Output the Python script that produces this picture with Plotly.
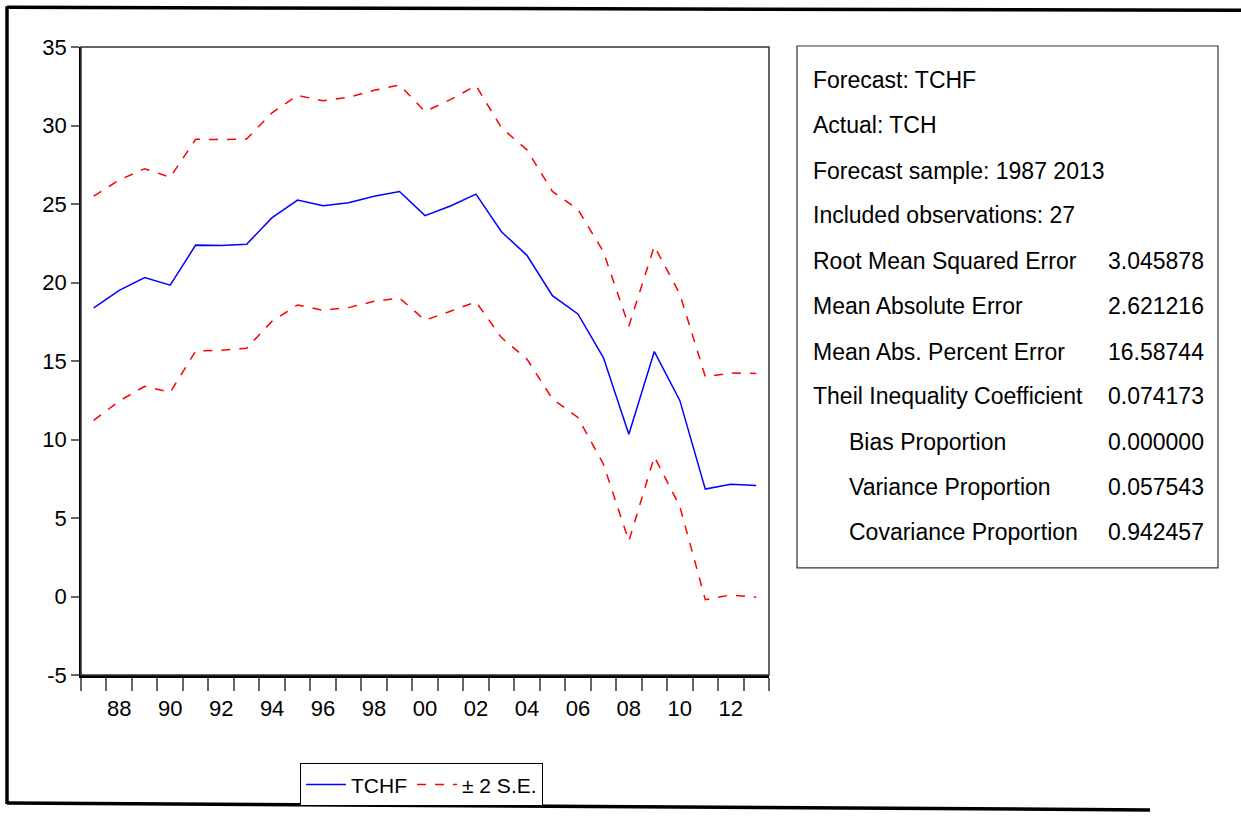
import plotly.graph_objects as go

# forecast series
years = list(range(1987, 2014))
tchf = [18.38, 19.50, 20.32, 19.83, 22.38, 22.36, 22.44, 24.13, 25.25, 24.89,
        25.08, 25.50, 25.80, 24.26, 24.87, 25.63, 23.23, 21.73, 19.16, 18.00,
        15.22, 10.34, 15.60, 12.49, 6.84, 7.15, 7.07]
upper = [25.50, 26.53, 27.25, 26.70, 29.12, 29.10, 29.14, 30.81, 31.92, 31.57,
         31.80, 32.24, 32.58, 30.89, 31.65, 32.54, 29.86, 28.45, 25.80, 24.66,
         21.96, 17.22, 22.32, 19.27, 14.00, 14.23, 14.21]
lower = [11.22, 12.45, 13.39, 13.00, 15.64, 15.68, 15.81, 17.54, 18.57, 18.23,
         18.40, 18.80, 19.01, 17.60, 18.17, 18.76, 16.49, 15.12, 12.59, 11.40,
         8.44, 3.53, 8.90, 5.74, -0.20, 0.10, -0.05]

label_years = list(range(1988, 2013, 2))
label_text = [str(y)[-2:] for y in label_years]
y_ticks = [-5, 0, 5, 10, 15, 20, 25, 30, 35]
y_text = ["-5", "0", "5", "10", "15", "20", "25", "30", "35"]

stat_names = ["Forecast: TCHF", "Actual: TCH", "Forecast sample: 1987 2013",
              "Included observations: 27", "Root Mean Squared Error",
              "Mean Absolute Error", "Mean Abs. Percent Error",
              "Theil Inequality Coefficient", "Bias Proportion",
              "Variance Proportion", "Covariance Proportion"]
stat_values = ["", "", "", "", "3.045878", "2.621216", "16.58744",
               "0.074173", "0.000000", "0.057543", "0.942457"]

W, H = 1241, 818
L, R, T, B = 81, 769, 47, 680
FONT = "Liberation Sans, Arial, sans-serif"


def px(x):
    return (x - L) / (R - L)


def py(y):
    return (B - y) / (B - T)


fig = go.Figure()
fig.add_trace(go.Scatter(x=years, y=tchf, name="TCHF", mode="lines",
                         line=dict(color="#0000ff", width=1.5)))
fig.add_trace(go.Scatter(x=years, y=upper, name="± 2 S.E.", mode="lines",
                         line=dict(color="#ff0000", width=1.5, dash="dash")))
fig.add_trace(go.Scatter(x=years, y=lower, name="± 2 S.E.", mode="lines",
                         showlegend=False,
                         line=dict(color="#ff0000", width=1.5, dash="dash")))

shapes = [
    # plot frame
    dict(type="rect", xref="paper", yref="paper", x0=0, x1=1, y0=0, y1=1,
         line=dict(color="#333333", width=1.5)),
    # stats box
    dict(type="rect", xref="paper", yref="paper", x0=px(797), x1=px(1218),
         y0=py(572), y1=py(46), line=dict(color="#333333", width=1.2)),
    # outer border (slightly skewed like the scan)
    dict(type="line", xref="paper", yref="paper", x0=px(7), x1=px(1241),
         y0=py(7), y1=py(10), line=dict(color="black", width=3.5)),
    dict(type="line", xref="paper", yref="paper", x0=px(7), x1=px(7),
         y0=py(6), y1=py(810), line=dict(color="black", width=3.5)),
    dict(type="line", xref="paper", yref="paper", x0=px(7), x1=px(1150),
         y0=py(809), y1=py(816), line=dict(color="black", width=3.5)),
]

annotations = []
row_y = [80, 126, 172, 216, 263, 308, 354, 399, 445, 491, 536]
for i, (name, val) in enumerate(zip(stat_names, stat_values)):
    indent = 847 if i >= 8 else 811
    annotations.append(dict(x=px(indent), y=py(row_y[i]), xref="paper", yref="paper",
                            text=name, showarrow=False, xanchor="left", yanchor="middle",
                            font=dict(family=FONT, size=23, color="black")))
    if val:
        annotations.append(dict(x=px(1206), y=py(row_y[i]), xref="paper", yref="paper",
                                text=val, showarrow=False, xanchor="right", yanchor="middle",
                                font=dict(family=FONT, size=23, color="black")))

fig.update_layout(
    width=W, height=H,
    margin=dict(l=L, r=W - R, t=T, b=H - B),
    paper_bgcolor="white", plot_bgcolor="white",
    font=dict(family=FONT, size=20, color="black"),
    shapes=shapes, annotations=annotations,
    legend=dict(orientation="h", x=px(300), y=py(769), xanchor="left", yanchor="top",
                bordercolor="black", borderwidth=1, bgcolor="white",
                font=dict(family=FONT, size=21), itemwidth=40),
)
fig.update_xaxes(
    range=[1986.5, 2013.5], showgrid=False, zeroline=False,
    tickvals=label_years, ticktext=label_text, ticks="",
    tickfont=dict(size=22), ticklabelstandoff=12,
    showline=True, linecolor="black", linewidth=2.5,
    minor=dict(tickvals=[y - 0.5 for y in years] + [2013.5], ticks="outside",
               ticklen=13, tickcolor="#666666", tickwidth=1.5),
)
fig.update_yaxes(
    range=[-5, 35], showgrid=False, zeroline=False,
    tickvals=y_ticks, ticktext=y_text, ticks="outside",
    tickfont=dict(size=22),
    ticklen=8, tickcolor="#666666", tickwidth=1.5,
    showline=True, linecolor="black", linewidth=1.5,
)

fig.write_html("out.html", config={"displayModeBar": False},
               post_script="document.body.style.margin='0px';")
